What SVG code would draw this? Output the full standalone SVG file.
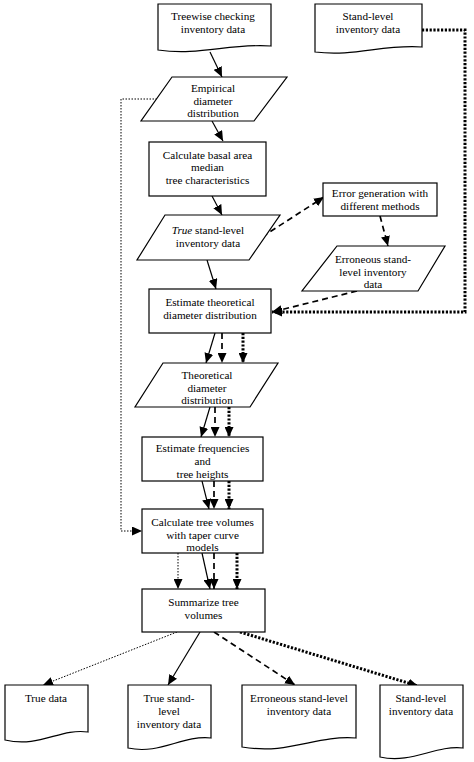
<svg xmlns="http://www.w3.org/2000/svg" width="474" height="762" viewBox="0 0 474 762">
<defs>
<marker id="ah" markerUnits="userSpaceOnUse" markerWidth="10" markerHeight="9" refX="10" refY="4.5" orient="auto">
<path d="M0,0 L10,4.5 L0,9 z" fill="#000"/>
</marker>
<style>
.n{fill:#fff;stroke:#000;stroke-width:1.2}
.t{font-family:"Liberation Serif","Times New Roman",serif;font-size:11.2px;fill:#000;text-anchor:middle}
.c{fill:none;stroke:#000;marker-end:url(#ah)}
.s{stroke-width:1.2}
.d{stroke-width:1.7;stroke-dasharray:6 4}
.k{stroke-width:3;stroke-dasharray:2.2 1.6}
.f{stroke-width:1;stroke-dasharray:1.5 1.5}
</style>
</defs>
<rect width="474" height="762" fill="#fff"/>
<g id="connectors">
<line class="c s" x1="210" y1="52" x2="222" y2="77"/>
<line class="c s" x1="212" y1="121" x2="223" y2="141"/>
<line class="c s" x1="212" y1="196" x2="222" y2="215"/>
<line class="c s" x1="207" y1="260" x2="216" y2="289"/>
<line class="c d" x1="262" y1="237" x2="324" y2="197"/>
<line class="c d" x1="380" y1="216" x2="388" y2="246"/>
<line class="c d" x1="357" y1="291" x2="272" y2="312"/>
<path class="c k" d="M422,30 H465 V312 H272"/>
<path class="c f" d="M157,99 H121 V531 H142"/>
<line class="c s" x1="215" y1="333" x2="206" y2="363"/>
<line class="c d" x1="222" y1="333" x2="222" y2="363"/>
<line class="c k" x1="243" y1="333" x2="243" y2="363"/>
<line class="c s" x1="210" y1="407" x2="201" y2="437"/>
<line class="c d" x1="215" y1="407" x2="215" y2="437"/>
<line class="c k" x1="229" y1="407" x2="229" y2="437"/>
<line class="c s" x1="202" y1="481" x2="209" y2="509"/>
<line class="c d" x1="214" y1="481" x2="214" y2="509"/>
<line class="c k" x1="229" y1="481" x2="229" y2="509"/>
<line class="c f" x1="178" y1="553" x2="178" y2="589"/>
<line class="c s" x1="202" y1="553" x2="210" y2="589"/>
<line class="c d" x1="214" y1="553" x2="214" y2="589"/>
<line class="c k" x1="237" y1="553" x2="237" y2="589"/>
<line class="c f" x1="177" y1="632" x2="43" y2="685"/>
<line class="c s" x1="200" y1="632" x2="168" y2="685"/>
<line class="c d" x1="214" y1="632" x2="295" y2="685"/>
<line class="c k" x1="240" y1="632" x2="418" y2="686"/>
</g>
<g id="treewise">
<path class="n" d="M158,4 H271 V46 C230,43 200,56 158,50 Z"/>
<text class="t" x="213" y="20">Treewise checking</text>
<text class="t" x="213" y="33">inventory data</text>
</g>
<g id="standlevel-top">
<path class="n" d="M315,4 H422 V47 C383,44 355,57 315,52 Z"/>
<text class="t" x="368" y="20">Stand-level</text>
<text class="t" x="368" y="33">inventory data</text>
</g>
<g id="empirical">
<path class="n" d="M172,77 H287 L254,121 H141 Z"/>
<text class="t" x="213" y="92">Empirical</text>
<text class="t" x="213" y="104.5">diameter</text>
<text class="t" x="213" y="117">distribution</text>
</g>
<g id="calc-basal">
<rect class="n" x="149" y="142" width="117" height="54"/>
<text class="t" x="207.5" y="158.5">Calculate basal area</text>
<text class="t" x="207.5" y="171">median</text>
<text class="t" x="207.5" y="184">tree characteristics</text>
</g>
<g id="true-stand">
<path class="n" d="M165,215 H280 L249,260 H137 Z"/>
<text class="t" x="208" y="234"><tspan font-style="italic">True</tspan> stand-level</text>
<text class="t" x="208" y="247">inventory data</text>
</g>
<g id="error-gen">
<rect class="n" x="323" y="183" width="114" height="33"/>
<text class="t" x="380" y="197">Error generation with</text>
<text class="t" x="380" y="210">different methods</text>
</g>
<g id="erroneous">
<path class="n" d="M337,246 H445 L418,291 H302 Z"/>
<text class="t" x="373" y="262.5">Erroneous stand-</text>
<text class="t" x="373" y="275.5">level inventory</text>
<text class="t" x="373" y="288">data</text>
</g>
<g id="estimate-theor">
<rect class="n" x="149" y="289" width="122" height="44"/>
<text class="t" x="210" y="306">Estimate theoretical</text>
<text class="t" x="210" y="319">diameter distribution</text>
</g>
<g id="theoretical">
<path class="n" d="M163,363 H278 L250,407 H135 Z"/>
<text class="t" x="207" y="378.5">Theoretical</text>
<text class="t" x="207" y="391.5">diameter</text>
<text class="t" x="207" y="404">distribution</text>
</g>
<g id="estimate-freq">
<rect class="n" x="142" y="437" width="121" height="44"/>
<text class="t" x="202.5" y="452">Estimate frequencies</text>
<text class="t" x="202.5" y="465">and</text>
<text class="t" x="202.5" y="478">tree heights</text>
</g>
<g id="calc-vol">
<rect class="n" x="142" y="509" width="121" height="44"/>
<text class="t" x="202.5" y="525.5">Calculate tree volumes</text>
<text class="t" x="202.5" y="538.5">with taper curve</text>
<text class="t" x="202.5" y="551">models</text>
</g>
<g id="summarize">
<rect class="n" x="142" y="589" width="123" height="43"/>
<text class="t" x="203.5" y="606">Summarize tree</text>
<text class="t" x="203.5" y="619">volumes</text>
</g>
<g id="true-data">
<path class="n" d="M5,685 H88 V732 C60,728 40,748 5,740 Z"/>
<text class="t" x="46" y="702">True data</text>
</g>
<g id="true-stand-out">
<path class="n" d="M128,685 H211 V738 C182,735 160,755 128,748 Z"/>
<text class="t" x="169" y="702">True stand-</text>
<text class="t" x="169" y="715">level</text>
<text class="t" x="169" y="728">inventory data</text>
</g>
<g id="erroneous-out">
<path class="n" d="M242,685 H356 V738 C315,735 290,755 242,747 Z"/>
<text class="t" x="299" y="702">Erroneous stand-level</text>
<text class="t" x="299" y="715">inventory data</text>
</g>
<g id="standlevel-out">
<path class="n" d="M380,685 H463 V748 C435,745 412,764 380,757 Z"/>
<text class="t" x="421" y="702">Stand-level</text>
<text class="t" x="421" y="715">inventory data</text>
</g>
</svg>
